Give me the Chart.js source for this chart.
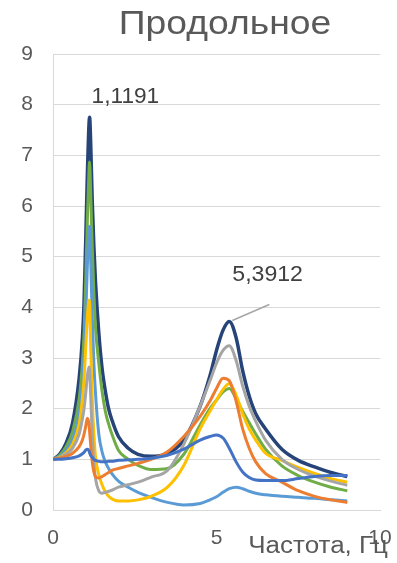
<!DOCTYPE html>
<html>
<head>
<meta charset="utf-8">
<script src="https://cdn.jsdelivr.net/npm/chart.js@4"></script>
<style>
  html, body { margin: 0; padding: 0; background: #ffffff; }
  #wrap { width: 397px; height: 563px; }
</style>
</head>
<body>
<div id="wrap"><canvas id="c" width="397" height="563"></canvas></div>
<script>
// Frequency grid, Hz (shared by all curves)
const freq = [0, 0.2, 0.4, 0.6, 0.8, 0.9, 0.95, 1.0, 1.05, 1.1, 1.1191, 1.15, 1.2, 1.25, 1.3, 1.4, 1.5, 1.6, 1.7, 1.8,
              2.0, 2.3, 2.6, 3.0, 3.5, 4.0, 4.5, 4.8, 5.0, 5.2, 5.3912, 5.6, 5.8, 6.0, 6.2, 6.5, 7.0, 7.5, 8.0, 8.5, 9.0];

// Response amplitude for each variant
const seriesBlue = [1, 1.0, 1.01, 1.03, 1.07, 1.11, 1.14, 1.18, 1.2, 1.17, 1.13, 1.08, 1.04, 1.0, 0.98, 0.96, 0.95, 0.95, 0.96, 0.96,
                    0.98, 0.99, 1.0, 1.02, 1.08, 1.2, 1.38, 1.45, 1.48, 1.42, 1.22, 0.95, 0.75, 0.64, 0.59, 0.58, 0.58, 0.62, 0.66, 0.68, 0.68];
const seriesOrange = [1, 1.02, 1.06, 1.12, 1.25, 1.38, 1.5, 1.65, 1.81, 1.7, 1.55, 1.3, 0.95, 0.75, 0.66, 0.63, 0.66, 0.7, 0.74, 0.78,
                      0.82, 0.87, 0.92, 1.0, 1.15, 1.45, 1.85, 2.15, 2.4, 2.6, 2.55, 2.15, 1.6, 1.22, 0.95, 0.72, 0.55, 0.38, 0.27, 0.2, 0.15];
const seriesGray = [1, 1.03, 1.1, 1.22, 1.5, 1.8, 2.0, 2.3, 2.65, 2.82, 2.75, 2.3, 1.5, 0.95, 0.62, 0.38, 0.33, 0.35, 0.37, 0.39,
                    0.45, 0.5, 0.55, 0.65, 0.78, 1.3, 2.05, 2.55, 2.9, 3.15, 3.24, 2.95, 2.45, 2.05, 1.75, 1.38, 1.0, 0.8, 0.67, 0.57, 0.49];
const seriesYellow = [1, 1.04, 1.13, 1.3, 1.7, 2.2, 2.6, 3.2, 3.8, 4.14, 4.1, 3.3, 2.2, 1.5, 1.05, 0.7, 0.5, 0.36, 0.27, 0.22,
                      0.18, 0.18, 0.2, 0.27, 0.45, 0.88, 1.6, 1.95, 2.17, 2.38, 2.49, 2.27, 1.9, 1.6, 1.38, 1.12, 0.98, 0.84, 0.72, 0.62, 0.55];
const seriesLightBlue = [1, 1.05, 1.18, 1.4, 1.9, 2.5, 3.0, 3.8, 4.8, 5.55, 5.6, 5.0, 3.8, 2.9, 2.3, 1.5, 1.15, 0.95, 0.82, 0.72,
                         0.57, 0.45, 0.35, 0.25, 0.15, 0.1, 0.13, 0.2, 0.26, 0.35, 0.42, 0.45, 0.42, 0.37, 0.33, 0.3, 0.27, 0.25, 0.23, 0.2, 0.18];
const seriesGreen = [1, 1.08, 1.25, 1.55, 2.2, 2.9, 3.5, 4.5, 5.7, 6.7, 6.87, 6.3, 5.2, 4.3, 3.6, 2.9, 2.35, 1.95, 1.7, 1.5,
                     1.18, 1.0, 0.88, 0.8, 0.82, 1.1, 1.68, 2.0, 2.17, 2.33, 2.4, 2.2, 1.95, 1.72, 1.5, 1.2, 0.87, 0.68, 0.55, 0.45, 0.38];
const seriesNavy = [1, 1.1, 1.32, 1.72, 2.6, 3.4, 4.1, 5.3, 6.6, 7.6, 7.75, 7.3, 6.1, 5.2, 4.5, 3.5, 2.8, 2.35, 2.0, 1.78,
                    1.45, 1.22, 1.1, 1.06, 1.12, 1.38, 2.05, 2.65, 3.15, 3.55, 3.72, 3.4, 2.75, 2.25, 1.9, 1.6, 1.2, 0.98, 0.85, 0.74, 0.66];

// Resonance frequencies marked on the outer curve
const peakFreqs = [1.1191, 5.3912];

const xTicks = [0, 5, 10];
const yTicks = [0, 1, 2, 3, 4, 5, 6, 7, 8, 9];

const TEXT = '#595959';
const GRID = '#d9d9d9';
const FONT = '"Liberation Sans", Arial, sans-serif';

function pts(values) {
  return freq.map((f, i) => ({ x: f, y: values[i] }));
}

function line(values, color, order, width) {
  return {
    data: pts(values),
    borderColor: color,
    backgroundColor: color,
    borderWidth: width || 3,
    pointRadius: 0,
    showLine: true,
    fill: false,
    cubicInterpolationMode: 'monotone',
    order: order
  };
}

const fmt = v => v.toFixed(4).replace('.', ',');

// text drawn slightly widened horizontally
function wideText(ctx, text, x, y, sx) {
  ctx.save();
  ctx.translate(x, y);
  ctx.scale(sx, 1);
  ctx.fillText(text, 0, 0);
  ctx.restore();
}

const decorations = {
  id: 'decorations',
  afterDatasetsDraw(chart) {
    const { ctx } = chart;
    const xs = chart.scales.x, ys = chart.scales.y;
    ctx.save();
    ctx.fillStyle = '#404040';
    ctx.font = '22px ' + FONT;
    ctx.textAlign = 'left';
    ctx.textBaseline = 'alphabetic';

    // first resonance label, just above the peak
    const f1 = peakFreqs[0];
    const v1 = seriesNavy[freq.indexOf(f1)];
    const p1x = xs.getPixelForValue(f1), p1y = ys.getPixelForValue(v1);
    wideText(ctx, fmt(f1), p1x + 2, p1y - 14, 1.03);

    // second resonance label with a leader line
    const f2 = peakFreqs[1];
    const v2 = seriesNavy[freq.indexOf(f2)];
    const p2x = xs.getPixelForValue(f2), p2y = ys.getPixelForValue(v2);
    ctx.strokeStyle = '#a6a6a6';
    ctx.lineWidth = 1.5;
    ctx.beginPath();
    ctx.moveTo(p2x + 3, p2y - 1);
    ctx.lineTo(p2x + 40, p2y - 17);
    ctx.stroke();
    wideText(ctx, fmt(f2), p2x + 3, p2y - 41, 1.05);

    // chart title
    ctx.fillStyle = TEXT;
    ctx.font = '33px ' + FONT;
    ctx.textAlign = 'center';
    wideText(ctx, 'Продольное', 225, 34, 1.13);

    // x axis title
    ctx.font = '23px ' + FONT;
    ctx.textAlign = 'right';
    wideText(ctx, 'Частота, Гц', 388, 553, 1.13);
    ctx.restore();
  }
};

new Chart(document.getElementById('c'), {
  type: 'scatter',
  data: {
    datasets: [
      line(seriesBlue, '#4472C4', 1),
      line(seriesOrange, '#ED7D31', 2),
      line(seriesGray, '#A5A5A5', 3),
      line(seriesYellow, '#FFC000', 4),
      line(seriesLightBlue, '#5B9BD5', 5),
      line(seriesGreen, '#70AD47', 6),
      line(seriesNavy, '#264478', 7, 3.5)
    ]
  },
  options: {
    responsive: false,
    devicePixelRatio: 1,
    animation: false,
    layout: { padding: { top: 54, right: 17, left: 0, bottom: 0 } },
    plugins: { legend: { display: false }, tooltip: { enabled: false }, title: { display: false } },
    scales: {
      x: {
        type: 'linear', min: 0, max: 10,
        afterBuildTicks: s => { s.ticks = xTicks.map(v => ({ value: v })); },
        afterFit: s => { s.height = 53; s.paddingLeft = 0; s.paddingRight = 0; },
        grid: { display: false, drawTicks: false },
        border: { display: true, color: GRID, width: 1 },
        ticks: { color: TEXT, font: { family: FONT, size: 21 }, padding: 16, maxRotation: 0 }
      },
      y: {
        type: 'linear', min: 0, max: 9,
        afterBuildTicks: s => { s.ticks = yTicks.map(v => ({ value: v })); },
        afterFit: s => { s.width = 53; s.paddingTop = 0; s.paddingBottom = 0; },
        grid: { color: GRID, lineWidth: 1, drawTicks: false },
        border: { display: true, color: GRID, width: 1 },
        ticks: { color: TEXT, font: { family: FONT, size: 21 }, padding: 20 }
      }
    }
  },
  plugins: [decorations]
});
</script>
</body>
</html>
